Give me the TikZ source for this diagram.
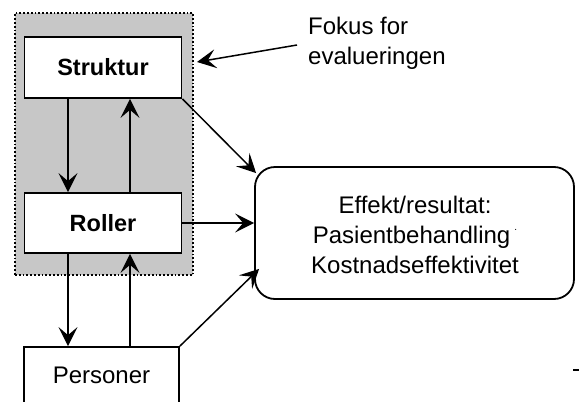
\documentclass[tikz,border=0pt]{standalone}
\usepackage{fontspec}
\setmainfont{Liberation Sans}
\usetikzlibrary{arrows.meta}
\begin{document}
\begin{tikzpicture}[x=1pt,y=-1pt,
  box/.style={draw=black,line width=1.8pt,fill=white,minimum width=157pt,inner sep=0pt},
  txt/.style={font=\fontsize{24}{30}\selectfont},
  arr/.style={line width=1.5pt,-{Stealth[length=19pt,width=19pt,inset=8pt]}},
  shadebox/.style={draw=black,dotted,line width=1.8pt,fill=black!22}]
\useasboundingbox (0,0) rectangle (579,402);
\clip (0,0) rectangle (579,402);
\node[shadebox,minimum width=178pt,minimum height=262pt,inner sep=0pt] (sh) at (104,144) {};
\node[box,minimum height=61pt,font=\fontsize{23.5}{28}\selectfont\bfseries] (str) at (103,67.5) {Struktur};
\node[box,minimum height=60pt,font=\fontsize{23.5}{28}\selectfont\bfseries] (rol) at (103,223) {Roller};
\node[box,minimum width=155pt,minimum height=80pt,txt] (per) at (101.5,387) {};
\node[txt,anchor=base] (pertxt) at (101.5,383) {Personer};
\node[draw=black,line width=1.8pt,rounded corners=20pt,minimum width=319pt,minimum height=132pt,inner sep=0pt] (eff) at (414.5,233) {};
\node[txt,align=center,anchor=center] (efftxt) at (415,235) {Effekt/resultat:\\ Pasientbehandling\,\raisebox{1.0ex}{\fontsize{10}{10}\selectfont .}\\Kostnadseffektivitet};
\node[txt,align=left,anchor=north west,inner sep=0pt] (fok) at (308,17) {Fokus for\\evalueringen};
\coordinate (fs) at (297,45);
\coordinate (ft) at (197,62);
\draw[arr] (fs) -- (ft);
\draw[arr] ([xshift=-35pt]str.south) -- ([xshift=-35pt]rol.north);
\draw[arr] ([xshift=27pt]rol.north) -- ([xshift=27pt]str.south);
\draw[arr] ([xshift=-35pt]rol.south) -- ([xshift=-33.5pt]per.north);
\draw[arr] ([xshift=28.5pt]per.north) -- ([xshift=27pt]rol.south);
\draw[arr] (str.south east) -- ([xshift=2pt,yshift=-7pt]eff.north west);
\draw[arr] (rol.east) -- (eff.west |- rol.east);
\draw[arr] (per.north east) -- ([xshift=5pt,yshift=31pt]eff.south west);
\coordinate (m1) at (573,370);
\coordinate (m2) at (579,370);
\draw[line width=1.2pt] (m1) -- (m2);
\end{tikzpicture}
\end{document}
